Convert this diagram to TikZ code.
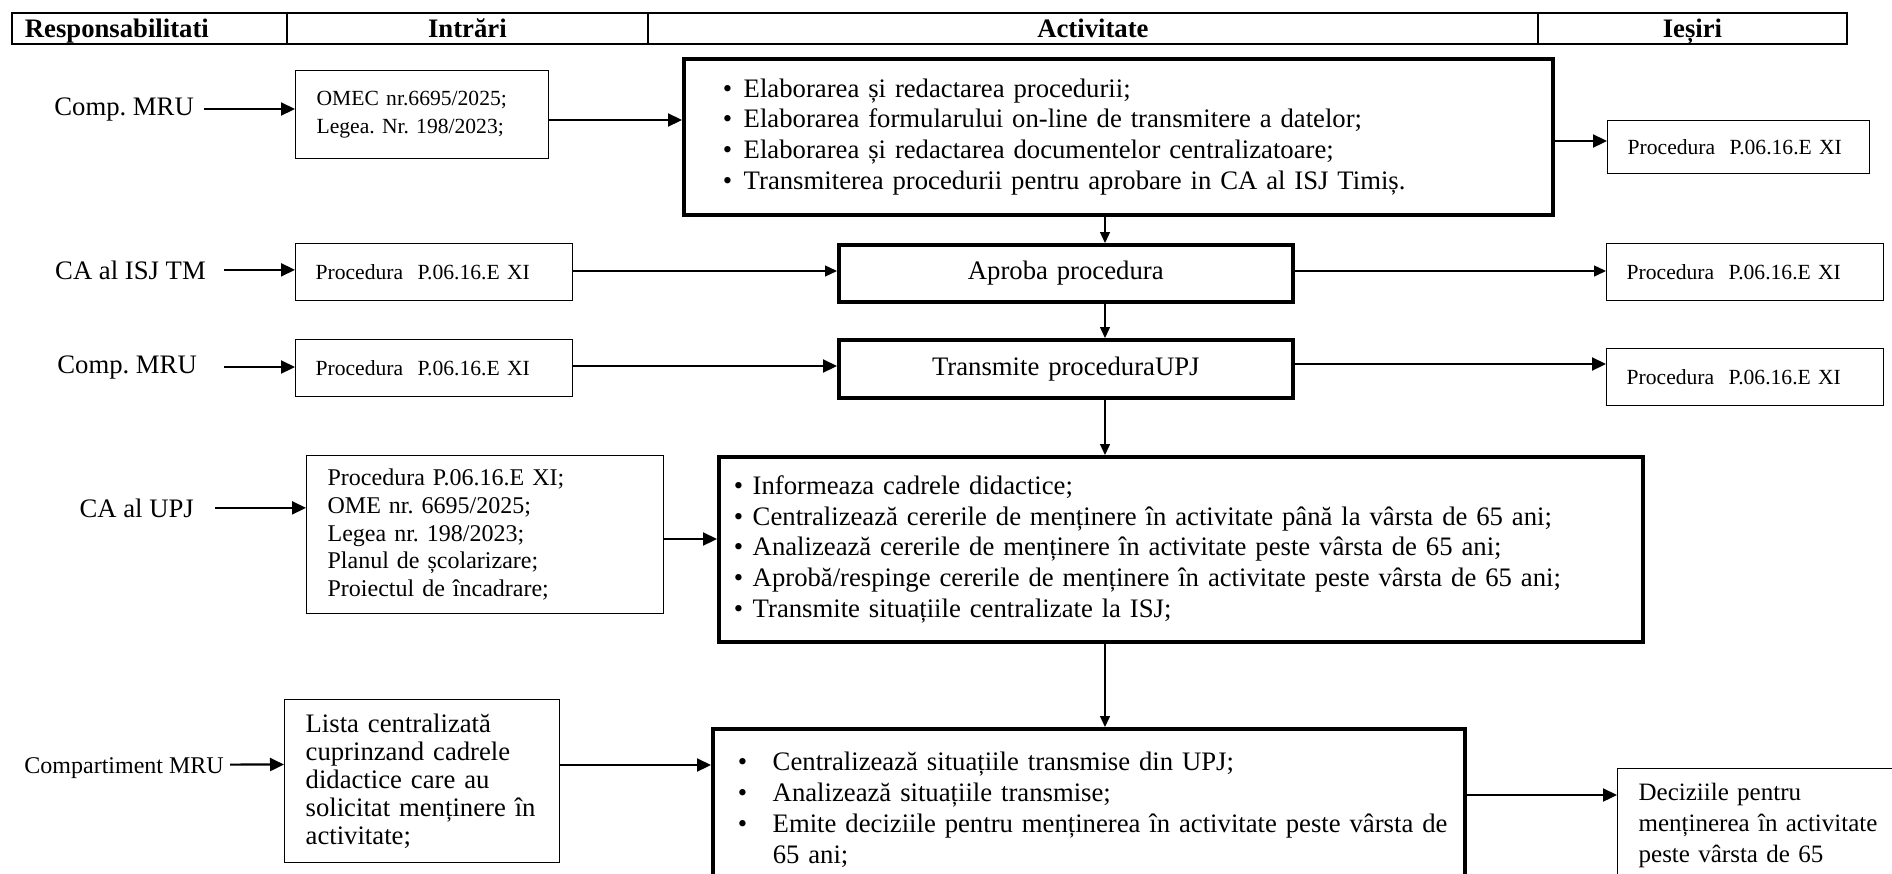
\documentclass[tikz,border=0pt]{standalone}
\usepackage{fontspec}
\setmainfont{Liberation Serif}
\usetikzlibrary{arrows.meta}
\frenchspacing
\newcommand\mainsz{\fontsize{26.7}{30.7}\selectfont}
\newcommand\listsz{\fontsize{26.7}{28}\selectfont}
\newcommand\medsz{\fontsize{24}{27.6}\selectfont}
\newcommand\outsz{\fontsize{25}{31}\selectfont}
\newcommand\smlsz{\fontsize{21.6}{27.5}\selectfont}
\newcommand\bul[1]{\makebox[#1][l]{•}}
\tikzset{
  cell/.style={draw, line width=1.8pt, anchor=north west, inner sep=0pt, minimum height=31pt,
    text height=18pt, text depth=0pt, font=\bfseries\mainsz},
  bx/.style 2 args={anchor=north west, inner sep=0pt, minimum width=#1, text width=#1,
    minimum height=#2, align=left},
  inbox/.style={draw, line width=1.3pt},
  actbox/.style={draw, line width=3.5pt},
  lab/.style={anchor=base east, inner sep=0pt, font=\mainsz},
  arrK/.style={line width=2.2pt, -{Triangle[length=14pt,width=13pt]}},
  arrT/.style={line width=1.3pt, -{Triangle[length=12pt,width=11pt]}},
  arrD/.style={line width=1.3pt, -{Triangle[length=11pt,width=10pt]}}
}
\begin{document}
\begin{tikzpicture}[x=1pt,y=-1pt]
\useasboundingbox (0,0) rectangle (1892,873);
\fill[white] (0,0) rectangle (1892,873);
\clip (0,0) rectangle (1892,873);

% header
\node[cell, minimum width=275pt, text width=275pt, align=left] (h1) at (11,12) {\leftskip=13pt Responsabilitati\par};
\node[cell, minimum width=361pt, text width=361pt, align=center] (h2) at (286,12) {Intrări};
\node[cell, minimum width=890pt, text width=890pt, align=center] (h3) at (647,12) {Activitate};
\node[cell, minimum width=309pt, text width=309pt, align=center] (h4) at (1537,12) {Ieșiri};

% labels
\node[lab] (lab1) at (194,115) {Comp. MRU};
\node[lab] (lab2) at (206,279) {CA al ISJ TM};
\node[lab] (lab3) at (197,373) {Comp. MRU};
\node[lab] (lab4) at (194,517) {CA al UPJ};
\node[lab, font=\medsz] (lab5) at (224,773) {Compartiment MRU};

% row 1
\node[bx={253pt}{88pt}, inbox, font=\smlsz] (in1) at (295,70)
  {\leftskip=21pt OMEC nr.6695/2025;\\Legea. Nr. 198/2023;\par};
\node[bx={869pt}{156pt}, actbox, font=\mainsz] (act1) at (682,57)
  {\leftskip=39pt \bul{21pt}Elaborarea și redactarea procedurii;\\
   \bul{21pt}Elaborarea formularului on-line de transmitere a datelor;\\
   \bul{21pt}Elaborarea și redactarea documentelor centralizatoare;\\
   \bul{21pt}Transmiterea procedurii pentru aprobare in CA al ISJ Timiș.\par};
\node[bx={262pt}{53pt}, inbox, font=\smlsz] (out1) at (1607,120)
  {\leftskip=20pt Procedura~~P.06.16.E XI\par};

% row 2
\node[bx={277pt}{57pt}, inbox, font=\smlsz] (in2) at (295,243)
  {\leftskip=20pt Procedura~~P.06.16.E XI\par};
\node[bx={454pt}{57pt}, actbox, font=\mainsz, align=center] (apr) at (837,243) {Aproba procedura};
\node[bx={277pt}{57pt}, inbox, font=\smlsz] (out2) at (1606,243)
  {\leftskip=20pt Procedura~~P.06.16.E XI\par};

% row 3
\node[bx={277pt}{57pt}, inbox, font=\smlsz] (in3) at (295,339)
  {\leftskip=20pt Procedura~~P.06.16.E XI\par};
\node[bx={454pt}{58pt}, actbox, font=\mainsz, align=center] (trm) at (837,338) {Transmite proceduraUPJ};
\node[bx={277pt}{57pt}, inbox, font=\smlsz] (out3) at (1606,348)
  {\leftskip=20pt Procedura~~P.06.16.E XI\par};

% row 4
\node[bx={357pt}{158pt}, inbox, font=\medsz] (in4) at (306,455)
  {\leftskip=21pt Procedura P.06.16.E XI;\\OME nr. 6695/2025;\\Legea nr. 198/2023;\\Planul de școlarizare;\\Proiectul de încadrare;\par};
\node[bx={924pt}{185pt}, actbox, font=\mainsz] (act4) at (717,455)
  {\leftskip=15pt \bul{19pt}Informeaza cadrele didactice;\\
   \bul{19pt}Centralizează cererile de menținere în activitate până la vârsta de 65 ani;\\
   \bul{19pt}Analizează cererile de menținere în activitate peste vârsta de 65 ani;\\
   \bul{19pt}Aprobă/respinge cererile de menținere în activitate peste vârsta de 65 ani;\\
   \bul{19pt}Transmite situațiile centralizate la ISJ;\par};

% row 5
\node[bx={275pt}{163pt}, inbox, font=\listsz] (in5) at (284,699)
  {\leftskip=21pt Lista centralizată\\cuprinzand cadrele\\didactice care au\\solicitat menținere în\\activitate;\par};
\node[bx={752pt}{162pt}, actbox, font=\mainsz] (act5) at (711,727)
  {\leftskip=25pt \bul{35pt}Centralizează situațiile transmise din UPJ;\\
   \bul{35pt}Analizează situațiile transmise;\\
   \bul{35pt}Emite deciziile pentru menținerea în activitate peste vârsta de\\
   \hspace*{35pt}65 ani;\par};
\node[bx={300pt}{114pt}, inbox, font=\outsz] (out5) at (1617,768)
  {\leftskip=21pt Deciziile pentru\\menținerea în activitate\\peste vârsta de 65\par};

% label arrows
\draw[arrK] ([xshift=10pt]lab1.east) -- (in1.west |- lab1.east);
\draw[arrK] ([xshift=18pt]lab2.east) -- (in2.west |- lab2.east);
\draw[arrK] ([xshift=27pt]lab3.east) -- (in3.west |- lab3.east);
\draw[arrK] ([xshift=21pt]lab4.east) -- (in4.west |- lab4.east);
\draw[arrK] ([xshift=6pt,yshift=3pt]lab5.east) -- (in5.west |- 0,764.5);

% input -> activity
\draw[arrK] (in1.east |- 0,120) -- (act1.west |- 0,120);
\draw[arrT] (in2.east |- 0,271) -- (apr.west |- 0,271);
\draw[arrK] (in3.east |- 0,366) -- (trm.west |- 0,366);
\draw[arrK] (in4.east |- 0,539) -- (act4.west |- 0,539);
\draw[arrK] (in5.east |- 0,765) -- (act5.west |- 0,765);

% activity -> output
\draw[arrK] (act1.east |- 0,141) -- (out1.west |- 0,141);
\draw[arrT] (apr.east |- 0,271) -- (out2.west |- 0,271);
\draw[arrK] (trm.east |- 0,364) -- (out3.west |- 0,364);
\draw[arrK] (act5.east |- 0,795) -- (out5.west |- 0,795);

% vertical flow
\draw[arrD] (act1.south -| 1105,0) -- (apr.north -| 1105,0);
\draw[arrD] (apr.south -| 1105,0) -- (trm.north -| 1105,0);
\draw[arrD] (trm.south -| 1105,0) -- (act4.north -| 1105,0);
\draw[arrD] (act4.south -| 1105,0) -- (act5.north -| 1105,0);
\end{tikzpicture}
\end{document}
